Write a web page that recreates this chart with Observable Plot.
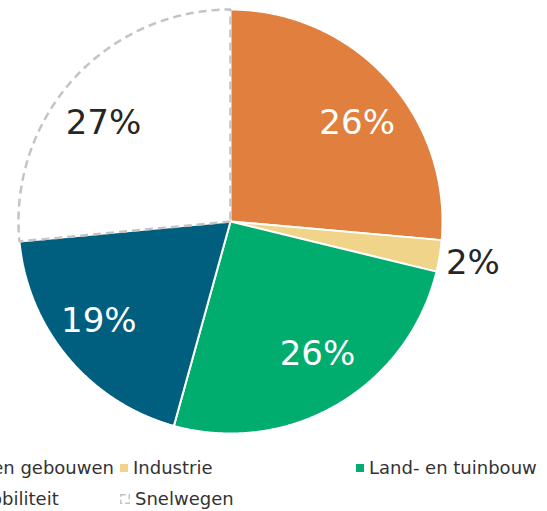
<!DOCTYPE html>
<html>
<head>
<meta charset="utf-8">
<script src="https://cdn.jsdelivr.net/npm/d3@7"></script>
<script src="https://cdn.jsdelivr.net/npm/@observablehq/plot@0.6"></script>
<style>
  html, body { margin: 0; padding: 0; background: #fff; }
  #wrap { width: 547px; height: 511px; overflow: hidden; position: relative; }
  #legend { position: relative; width: 547px; height: 66px; overflow: hidden; font-family: "DejaVu Sans", Verdana, sans-serif; font-size: 18px; color: #333; }
  #legend .grid { position: absolute; left: -116px; top: 7px; display: grid; grid-template-columns: repeat(3, 236px); grid-auto-rows: 31px; }
  #legend .item { display: flex; align-items: center; white-space: nowrap; }
  #legend .item svg { margin-right: 5px; flex: none; }
</style>
</head>
<body>
<div id="wrap">
  <div id="chart"></div>
  <div id="legend"><div class="grid"></div></div>
</div>
<script>
const categories = ["Woningen en gebouwen", "Industrie", "Land- en tuinbouw", "Overige mobiliteit", "Snelwegen"];
const values = [26.4, 2.4, 25.5, 19.2, 26.5];
const colors = ["#e07f3e", "#f0d48a", "#00ad6e", "#005f7e", "#ffffff"];
const labelColors = ["#ffffff", "#262626", "#ffffff", "#ffffff", "#262626"];
const outsideLabel = [false, true, false, false, false];

const data = categories.map((c, i) => ({category: c, value: values[i], color: colors[i], labelColor: labelColors[i], outside: outsideLabel[i]}));
const arcs = d3.pie().sort(null).value(d => d.value)(data);

function slicePoints(a) {
  const pts = [{x: 0, y: 0}];
  const n = Math.max(2, Math.ceil((a.endAngle - a.startAngle) / 0.005));
  for (let k = 0; k <= n; k++) {
    const t = a.startAngle + (a.endAngle - a.startAngle) * k / n;
    pts.push({x: Math.sin(t), y: Math.cos(t)});
  }
  pts.push({x: 0, y: 0});
  return pts;
}

const marks = [];
arcs.forEach((a, i) => {
  if (a.data.category === "Snelwegen") return;
  marks.push(Plot.line(slicePoints(a), {x: "x", y: "y", fill: a.data.color, stroke: "#ffffff", strokeWidth: 2, curve: "linear", strokeLinejoin: "miter"}));
});
arcs.forEach((a, i) => {
  if (a.data.category !== "Snelwegen") return;
  marks.push(Plot.line(slicePoints(a), {x: "x", y: "y", fill: a.data.color, stroke: "#c4c4c4", strokeWidth: 2.5, strokeDasharray: "8,5", strokeLinecap: "butt", curve: "linear", strokeLinejoin: "miter"}));
});

const labelData = arcs.map(a => {
  const m = (a.startAngle + a.endAngle) / 2;
  const inside = !a.data.outside;
  return {
    x: inside ? Math.sin(m) * 0.81 : Math.sin(m) * 1.03,
    y: inside ? Math.cos(m) * 0.71 : Math.cos(m) * 1.03,
    text: Math.round(a.data.value) + "%",
    fill: a.data.labelColor,
    anchor: inside ? "middle" : "start"
  };
});
marks.push(Plot.text(labelData.filter(d => d.anchor === "middle"), {x: "x", y: "y", text: "text", fill: "fill", fontSize: 34, textAnchor: "middle", dy: 3}));
marks.push(Plot.text(labelData.filter(d => d.anchor === "start"), {x: "x", y: "y", text: "text", fill: "fill", fontSize: 34, textAnchor: "start", dy: 6}));

const chart = Plot.plot({
  width: 547,
  height: 445,
  margin: 0,
  style: {fontFamily: "'DejaVu Sans', Verdana, sans-serif", background: "#ffffff", overflow: "visible"},
  x: {domain: [-1, 1], range: [18, 442], axis: null},
  y: {domain: [-1, 1], range: [433, 9], axis: null},
  color: {type: "identity"},
  marks
});
document.getElementById("chart").appendChild(chart);

const grid = document.querySelector("#legend .grid");
data.forEach(d => {
  const item = document.createElement("div");
  item.className = "item";
  const sw = d.category === "Snelwegen"
    ? `<svg width="10" height="10"><rect x="0.75" y="0.75" width="8.5" height="8.5" fill="#fff" stroke="#c4c4c4" stroke-width="1.5" stroke-dasharray="5,3"/></svg>`
    : `<svg width="8" height="8"><rect width="8" height="8" fill="${d.color}"/></svg>`;
  item.innerHTML = sw + `<span>${d.category}</span>`;
  grid.appendChild(item);
});
</script>
</body>
</html>
